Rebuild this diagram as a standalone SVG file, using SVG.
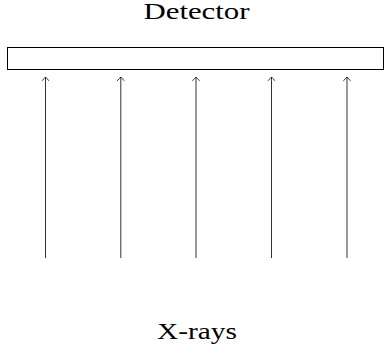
<svg xmlns="http://www.w3.org/2000/svg" width="385" height="351" viewBox="0 0 385 351">
  <defs>
    <marker id="tip" viewBox="-5 -5 10 10" markerWidth="10" markerHeight="10" refX="0" refY="0" orient="auto" markerUnits="userSpaceOnUse">
      <path d="M-3.6,-3.4 Q-1.1,-0.7 0,0 Q-1.1,0.7 -3.6,3.4" fill="none" stroke="#000" stroke-width="0.8" stroke-linecap="round"/>
    </marker>
  </defs>
  <style>
    .lbl { font-family: "Liberation Serif", "DejaVu Serif", serif; font-size: 24px; fill: #000; text-anchor: middle; }
    .ray { stroke: #000; stroke-width: 0.8; fill: none; marker-end: url(#tip); }
  </style>
  <rect width="385" height="351" fill="#fff"/>
  <g id="detector">
    <rect x="7.5" y="47.5" width="376" height="22" fill="#fff" stroke="#000" stroke-width="1"/>
    <text class="lbl" x="196.5" y="19" textLength="106" lengthAdjust="spacingAndGlyphs">Detector</text>
  </g>
  <g id="source">
    <text class="lbl" x="197" y="338.5" textLength="80" lengthAdjust="spacingAndGlyphs">X-rays</text>
  </g>
  <g id="rays">
    <line class="ray" x1="45.5" y1="258" x2="45.5" y2="77"/>
    <line class="ray" x1="120.8" y1="258" x2="120.8" y2="77"/>
    <line class="ray" x1="196" y1="258" x2="196" y2="77"/>
    <line class="ray" x1="271.5" y1="258" x2="271.5" y2="77"/>
    <line class="ray" x1="347" y1="258" x2="347" y2="77"/>
  </g>
</svg>
